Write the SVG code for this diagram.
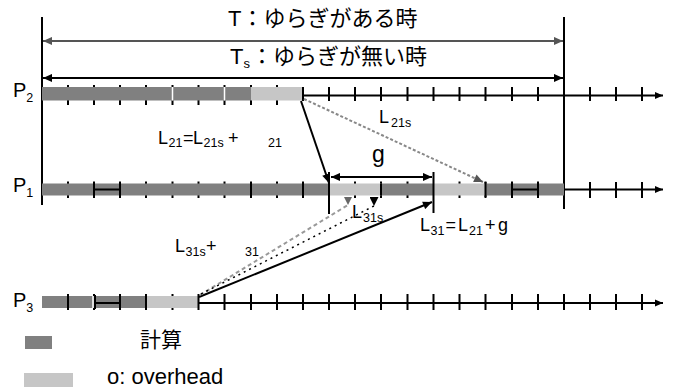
<svg xmlns="http://www.w3.org/2000/svg" width="675" height="390" viewBox="0 0 675 390">
<style>
text{font-family:"Liberation Sans","Noto Sans CJK JP",sans-serif;fill:#000}
.h{font-size:22px}
.p{font-size:20px}
.l{font-size:18px}
.s{font-size:12.5px}
.dk{fill:#808080}
.lt{fill:#c6c6c6}
.tk{stroke:#000;stroke-width:2;fill:none}
.ax{stroke:#000;stroke-width:2;fill:none}
.sep{stroke:#fff;stroke-width:1.5}
</style>
<defs>
<marker id="ah" viewBox="0 0 10 10" refX="10" refY="5" markerWidth="10" markerHeight="9" markerUnits="userSpaceOnUse" orient="auto-start-reverse"><path d="M0,0.5L10,5L0,9.5z" fill="#000"/></marker>
<marker id="ahg" viewBox="0 0 10 10" refX="10" refY="5" markerWidth="11" markerHeight="9" markerUnits="userSpaceOnUse" orient="auto-start-reverse"><path d="M0,0.5L10,5L0,9.5z" fill="#555"/></marker>
<marker id="ax" viewBox="0 0 10 10" refX="10" refY="5" markerWidth="8" markerHeight="9" markerUnits="userSpaceOnUse" orient="auto"><path d="M0,0.5L10,5L0,9.5z" fill="#000"/></marker>
<marker id="dg" viewBox="0 0 10 10" refX="5" refY="10" markerWidth="9" markerHeight="8" markerUnits="userSpaceOnUse" orient="0"><path d="M0,0L10,0L5,10z" fill="#666"/></marker>
<marker id="db" viewBox="0 0 10 10" refX="5" refY="10" markerWidth="9" markerHeight="9" markerUnits="userSpaceOnUse" orient="0"><path d="M0,0L10,0L5,10z" fill="#000"/></marker>
</defs>

<g id="header">
<line x1="42" y1="17" x2="42" y2="205" class="ax"/>
<line x1="564" y1="17" x2="564" y2="209" class="ax"/>
<line x1="43" y1="41" x2="563" y2="41" stroke="#555" stroke-width="2" marker-start="url(#ahg)" marker-end="url(#ahg)"/>
<line x1="43" y1="78" x2="563" y2="78" stroke="#000" stroke-width="2" marker-start="url(#ah)" marker-end="url(#ah)"/>
<text class="h" x="228" y="26">T：ゆらぎがある時</text>
<text class="h" y="64"><tspan x="230">T</tspan><tspan font-size="13" dy="4">s</tspan><tspan dy="-4" x="251">：ゆらぎが無い時</tspan></text>
</g>

<g id="row-p2">
<text class="p" x="13" y="97">P<tspan class="s" font-size="13" dy="5">2</tspan></text>
<path class="tk" d="M68,85V105M94,85V105M120,85V105M146,85V105M172.5,85V105M198.5,85V105M224.5,85V105M251,85V105M277,85V105"/>
<rect class="dk" x="42" y="87" width="209" height="13.5"/>
<rect class="lt" x="251" y="87" width="52" height="13.5"/>
<line class="sep" x1="172.5" y1="87" x2="172.5" y2="100.5"/>
<line class="sep" x1="224.5" y1="87" x2="224.5" y2="100.5"/>
<line class="ax" x1="303" y1="95.5" x2="663" y2="95.5" marker-end="url(#ax)"/>
<path class="tk" d="M303,87V101M329,87V101M355,87V101M381,87V101M407.5,87V101M433.5,87V101M459.5,87V101M485.5,87V101M512,87V101M538,87V101M590,87V101M616,87V101M642,87V101"/>
</g>

<g id="row-p1">
<text class="p" x="13" y="192">P<tspan class="s" font-size="13" dy="5">1</tspan></text>
<path class="tk" d="M68,181.5V198M94,181.5V198M120,181.5V198M146,181.5V198M172.5,181.5V198M198.5,181.5V198M224.5,181.5V198M251,181.5V198M277,181.5V198M303,181.5V198M355,181.5V198M381,181.5V198M407.5,181.5V198M459.5,181.5V198M485.5,181.5V198M512,181.5V198M538,181.5V198"/>
<rect class="dk" x="42" y="183.5" width="287" height="12"/>
<rect class="lt" x="329" y="183.5" width="52" height="12"/>
<rect class="dk" x="381" y="183.5" width="52.5" height="12"/>
<rect class="lt" x="433.5" y="183.5" width="52" height="12"/>
<rect class="dk" x="485.5" y="183.5" width="78.5" height="12"/>
<path class="tk" d="M94,182V197M120,182V197M94,189.5H120M251,182V197M303,182V197M381,183.5V195.5M485.5,182V197M512,182V197M538,182V197M512,189.5H538"/>
<line class="ax" x1="564" y1="189.5" x2="663" y2="189.5" marker-end="url(#ax)"/>
<path class="tk" d="M590,182V198M616,182V198M642,182V198"/>
<path class="tk" d="M329,172V214M433.5,172V213"/>
</g>

<g id="row-p3">
<text class="p" x="13" y="307">P<tspan class="s" font-size="13" dy="5">3</tspan></text>
<path class="tk" d="M68,294V310M94,294V310M120,294V310M146,294V310M172.5,294V310"/>
<rect class="dk" x="42" y="296" width="104" height="12"/>
<rect class="lt" x="146" y="296" width="52.5" height="12"/>
<line class="sep" x1="93" y1="296" x2="93" y2="308"/>
<path class="tk" d="M68,295V309M95,295V309M120,295V309M95,303H120M146,295V309"/>
<line class="ax" x1="198.5" y1="303" x2="663" y2="303" marker-end="url(#ax)"/>
<path class="tk" d="M198.5,294V310M224.5,294V310M251,294V310M277,294V310M303,294V310M329,294V310M355,294V310M381,294V310M407.5,294V310M433.5,294V310M459.5,294V310M485.5,294V310M512,294V310M538,294V310M564,294V310M590,294V310M616,294V310M642,294V310"/>
</g>

<g id="connectors">
<line x1="301" y1="101" x2="329" y2="183" stroke="#000" stroke-width="2" marker-end="url(#ah)"/>
<line x1="304" y1="99" x2="483" y2="182" stroke="#888" stroke-width="2" stroke-dasharray="3 2" marker-end="url(#ahg)"/>
<line x1="331" y1="177" x2="432" y2="177" stroke="#000" stroke-width="2" marker-start="url(#ah)" marker-end="url(#ah)"/>
<line x1="199" y1="297" x2="432" y2="202" stroke="#000" stroke-width="2" marker-end="url(#ah)"/>
<line x1="200" y1="295" x2="348" y2="205" stroke="#999" stroke-width="2" stroke-dasharray="4 3" marker-end="url(#dg)"/>
<line x1="201" y1="294" x2="374" y2="206" stroke="#000" stroke-width="1.5" stroke-dasharray="2 4" marker-end="url(#db)"/>
</g>

<g id="labels">
<text class="l" y="144"><tspan x="158">L</tspan><tspan class="s" x="168.5" dy="3">21</tspan><tspan x="183" dy="-3">=</tspan><tspan x="193">L</tspan><tspan class="s" x="203.5" dy="3">21s</tspan><tspan x="228" dy="-3">+</tspan><tspan class="s" x="268" dy="3">21</tspan></text>
<text class="l" y="123"><tspan x="379">L</tspan><tspan class="s" x="391" dy="4">21s</tspan></text>
<text x="372" y="162" font-size="23">g</text>
<text class="l" y="218"><tspan x="352">L</tspan><tspan class="s" x="363" dy="4">31s</tspan></text>
<text class="l" y="231"><tspan x="420">L</tspan><tspan class="s" x="430.5" dy="4">31</tspan><tspan x="445.5" dy="-4">=</tspan><tspan x="458">L</tspan><tspan class="s" x="469" dy="4">21</tspan><tspan x="485" dy="-4">+</tspan><tspan x="498">g</tspan></text>
<text class="l" y="252"><tspan x="175">L</tspan><tspan class="s" x="185.5" dy="4">31s</tspan><tspan x="206" dy="-4">+</tspan><tspan class="s" x="245" dy="4">31</tspan></text>
</g>

<g id="legend">
<rect class="dk" x="25" y="336" width="27" height="13"/>
<text x="140" y="347" font-size="21">計算</text>
<rect class="lt" x="24" y="373" width="49" height="14"/>
<text x="107" y="384" font-size="22">o: overhead</text>
</g>
</svg>
